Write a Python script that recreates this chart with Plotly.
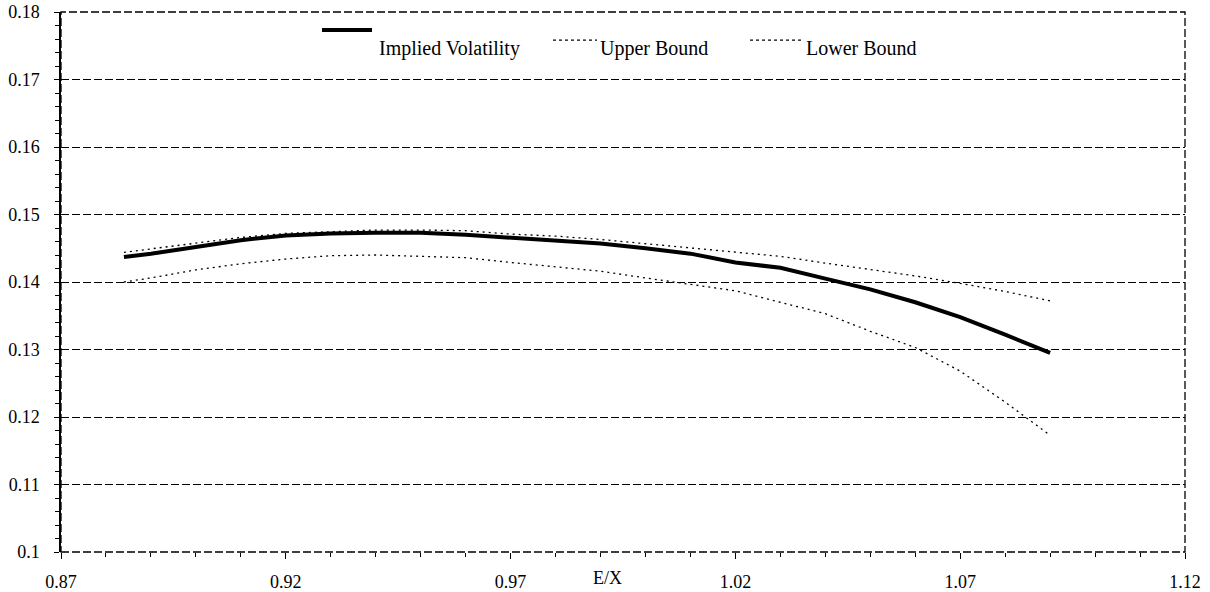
import plotly.graph_objects as go

# E/X values
ex = [0.884, 0.89, 0.90, 0.91, 0.92, 0.93, 0.94, 0.95, 0.96, 0.97, 0.98,
      0.99, 1.00, 1.01, 1.02, 1.03, 1.04, 1.05, 1.06, 1.07, 1.08, 1.09]

implied_vol = [0.1437, 0.1442, 0.1452, 0.1462, 0.1469, 0.1472, 0.1473, 0.1473,
               0.1470, 0.1466, 0.1462, 0.1457, 0.1450, 0.1442, 0.1429, 0.1421,
               0.1405, 0.1389, 0.1370, 0.1348, 0.1322, 0.1295]

upper_bound = [0.1444, 0.1449, 0.1458, 0.1466, 0.1472, 0.1475, 0.1477, 0.1477,
               0.1476, 0.1471, 0.1468, 0.1463, 0.1457, 0.1450, 0.1445, 0.1438,
               0.1428, 0.1419, 0.1409, 0.1398, 0.1386, 0.1372]

lower_bound = [0.1400, 0.1406, 0.1418, 0.1427, 0.1434, 0.1439, 0.1440, 0.1438,
               0.1436, 0.1429, 0.1422, 0.1416, 0.1406, 0.1396, 0.1387, 0.1370,
               0.1353, 0.1327, 0.1303, 0.1268, 0.1222, 0.1173]

series_names = ["Implied Volatility", "Upper Bound", "Lower Bound"]

FONT = "Liberation Serif"

fig = go.Figure()
fig.add_trace(go.Scatter(x=ex, y=upper_bound, mode="lines", name=series_names[1],
                         line=dict(color="black", width=1.3, dash="2px,4px")))
fig.add_trace(go.Scatter(x=ex, y=lower_bound, mode="lines", name=series_names[2],
                         line=dict(color="black", width=1.3, dash="2px,4px")))
fig.add_trace(go.Scatter(x=ex, y=implied_vol, mode="lines", name=series_names[0],
                         line=dict(color="black", width=4)))

# dashed frame (top, right, bottom)
fig.add_shape(type="rect", xref="paper", yref="paper", x0=0, x1=1, y0=0, y1=1,
              line=dict(color="black", width=1.3, dash="8px,3px"), layer="below")

# manual legend
leg_y_solid = 0.9667
leg_y_dot = 0.948
leg_y_text = 0.9333
fig.add_shape(type="line", xref="paper", yref="paper", x0=0.2322, x1=0.2767,
              y0=leg_y_solid, y1=leg_y_solid, line=dict(color="black", width=4))
fig.add_shape(type="line", xref="paper", yref="paper", x0=0.4377, x1=0.4769,
              y0=leg_y_dot, y1=leg_y_dot, line=dict(color="black", width=1.3, dash="3px,3px"))
fig.add_shape(type="line", xref="paper", yref="paper", x0=0.6130, x1=0.6592,
              y0=leg_y_dot, y1=leg_y_dot, line=dict(color="black", width=1.3, dash="3px,3px"))
for xpos, txt in [(0.2811, series_names[0]), (0.4778, series_names[1]), (0.6610, series_names[2])]:
    fig.add_annotation(xref="paper", yref="paper", x=xpos, y=leg_y_text, text=txt,
                       showarrow=False, xanchor="left", yanchor="middle",
                       font=dict(family=FONT, size=20, color="black"))

# x-axis title placed in the tick label row
fig.add_annotation(xref="paper", yref="paper", x=0.4866, y=-0.049, text="E/X",
                   showarrow=False, xanchor="center", yanchor="middle",
                   font=dict(family=FONT, size=18, color="black"))

fig.update_xaxes(range=[0.87, 1.12], tick0=0.87, dtick=0.05, tickformat=".2f",
                 showgrid=False, zeroline=False, showline=False, automargin=False,
                 ticks="outside", ticklen=6, tickwidth=1.3, tickcolor="black",
                 minor=dict(dtick=0.01, ticks="outside", ticklen=4, tickwidth=1.3,
                            tickcolor="black", showgrid=False),
                 tickfont=dict(family=FONT, size=18, color="black"),
                 ticklabelstandoff=7)
fig.update_yaxes(range=[0.1, 0.18], tick0=0.1, dtick=0.01, tickformat=".2~f",
                 showgrid=True, gridcolor="black", gridwidth=1.3, griddash="8px,3px",
                 zeroline=False, showline=True, linecolor="black", linewidth=1.5,
                 automargin=False,
                 ticks="outside", ticklen=5, tickwidth=1.3, tickcolor="black",
                 minor=dict(dtick=0.002, ticks="outside", ticklen=4, tickwidth=1.3,
                            tickcolor="black", showgrid=False),
                 tickfont=dict(family=FONT, size=18, color="black"),
                 ticklabelstandoff=11)

fig.update_layout(width=1210, height=592, showlegend=False,
                  margin=dict(l=61, r=25, t=12, b=40),
                  plot_bgcolor="white", paper_bgcolor="white",
                  font=dict(family=FONT, color="black"))

fig.write_html("out.html", config={"displayModeBar": False},
               post_script="document.body.style.margin='0';document.documentElement.style.overflow='hidden';")
